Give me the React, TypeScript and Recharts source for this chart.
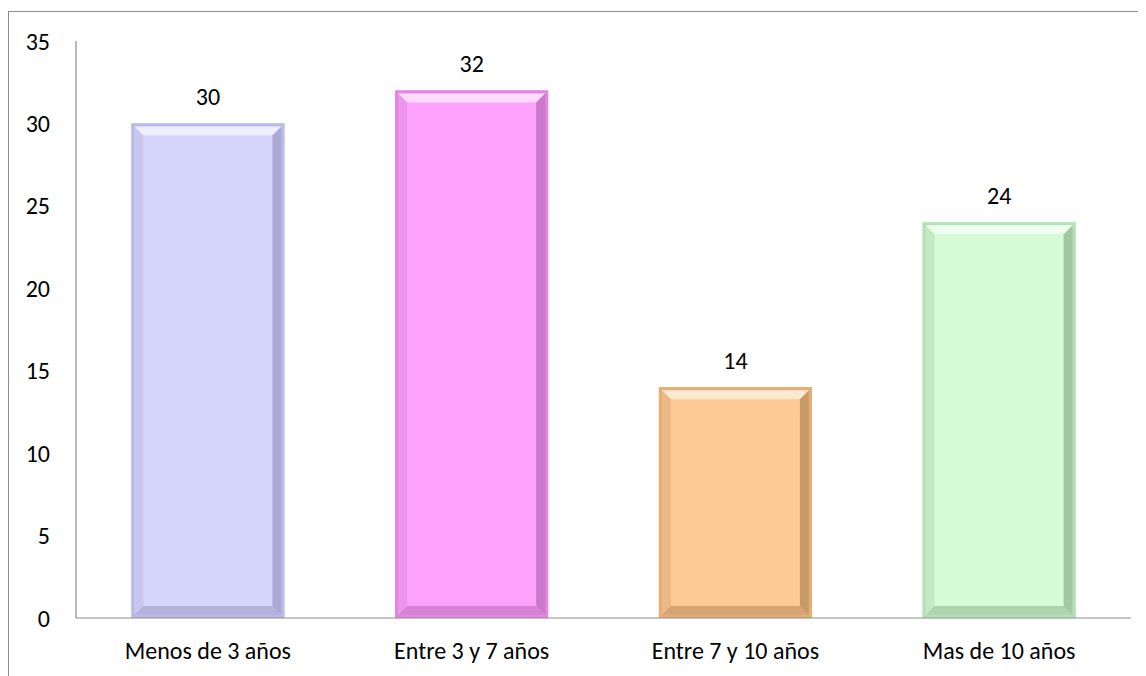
import { BarChart, Bar, XAxis, YAxis, LabelList, Cell } from "recharts";

const categories = ["Menos de 3 años", "Entre 3 y 7 años", "Entre 7 y 10 años", "Mas de 10 años"];
const values = [30, 32, 14, 24];
const yTicks = [0, 5, 10, 15, 20, 25, 30, 35];

const fills = ["#d6d6fc", "#fca2fc", "#fdc994", "#d6fbd6"];
const rims = ["#b9b9ec", "#e584e5", "#e8ad76", "#b5e2b5"];
const shades = ["#8a8ab8", "#a95ea9", "#a87a4e", "#7ea57e"];

const data = categories.map((name, i) => ({ name, value: values[i] }));

const font = "Carlito, 'Open Sans', 'Noto Sans', sans-serif";

const BevelBar = (props: any) => {
  const { x, y, width, height, index } = props;
  const fill = fills[index];
  const rim = rims[index];
  const shade = shades[index];
  const o = 3;
  const b = 9;
  const ix = x + o;
  const iy = y + o;
  const iw = width - 2 * o;
  const ih = height - 2 * o;
  return (
    <g>
      <rect x={x} y={y} width={width} height={height} fill={rim} />
      <rect x={ix} y={iy} width={iw} height={ih} fill={fill} />
      {/* top highlight */}
      <polygon
        points={`${ix},${iy} ${ix + iw},${iy} ${ix + iw - b},${iy + b} ${ix + b},${iy + b}`}
        fill="#ffffff"
        opacity={0.6}
      />
      {/* left edge */}
      <polygon
        points={`${ix},${iy} ${ix + b},${iy + b} ${ix + b},${iy + ih - b} ${ix},${iy + ih}`}
        fill={shade}
        opacity={0.2}
      />
      {/* right edge */}
      <polygon
        points={`${ix + iw},${iy} ${ix + iw},${iy + ih} ${ix + iw - b},${iy + ih - b} ${ix + iw - b},${iy + b}`}
        fill={shade}
        opacity={0.6}
      />
      {/* bottom edge */}
      <polygon
        points={`${ix},${iy + ih} ${ix + iw},${iy + ih} ${ix + iw - b},${iy + ih - b} ${ix + b},${iy + ih - b}`}
        fill={shade}
        opacity={0.45}
      />
      <rect x={x + 0.5} y={y + 0.5} width={width - 1} height={height - 1} fill="none" stroke={rim} strokeWidth={1} />
    </g>
  );
};

export default function App() {
  return (
    <div
      style={{
        width: 1137,
        height: 664,
        marginTop: 3,
        borderLeft: "1px solid #8c8c8c",
        borderTop: "1px solid #8c8c8c",
        fontFamily: font,
        overflow: "hidden",
      }}
    >
      <BarChart
        width={1137}
        height={664}
        data={data}
        margin={{ top: 29, right: 15, bottom: 0, left: 0 }}
        barCategoryGap="21%"
      >
        <XAxis
          dataKey="name"
          axisLine={{ stroke: "#8c8c8c", strokeWidth: 1.2 }}
          tickLine={false}
          tickSize={0}
          tickMargin={24}
          height={58}
          tick={{ fill: "#000", fontSize: 24, fontFamily: font }}
        />
        <YAxis
          domain={[0, 35]}
          ticks={yTicks}
          width={67}
          axisLine={{ stroke: "#8c8c8c", strokeWidth: 1.2 }}
          tickLine={false}
          tickSize={0}
          tickMargin={26}
          tick={{ fill: "#000", fontSize: 24, fontFamily: font }}
        />
        <Bar dataKey="value" isAnimationActive={false} shape={BevelBar}>
          {data.map((d, i) => (
            <Cell key={d.name} fill={fills[i]} />
          ))}
          <LabelList dataKey="value" position="top" offset={18} fill="#000" fontSize={24} fontFamily={font} />
        </Bar>
      </BarChart>
    </div>
  );
}
